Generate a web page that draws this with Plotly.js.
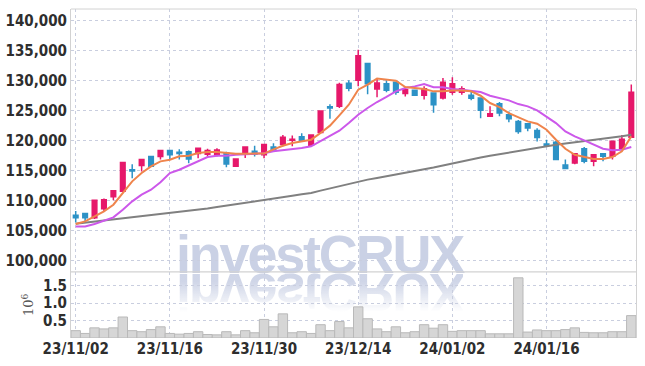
<!DOCTYPE html>
<html>
<head>
<meta charset="utf-8">
<script src="https://cdn.plot.ly/plotly-3.0.1.min.js"></script>
<style>
  html, body { margin: 0; padding: 0; background: #ffffff; }
  #wrap { position: relative; width: 645px; height: 366px; overflow: hidden; }
  #chart { position: absolute; left: 0; top: 0; width: 645px; height: 366px; z-index: 2; }
  .wm { position: absolute; left: 176px; font-family: "Liberation Sans", Arial, sans-serif; font-weight: bold;
        font-size: 54px; letter-spacing: -2.2px; line-height: 38px; height: 38px; white-space: nowrap; z-index: 1; }
  #wm1 { top: 235px; color: #cad1e5; }
  #wm2 { top: 273.5px; color: transparent; transform: scaleY(-1);
         background: linear-gradient(to top, rgba(202,209,229,0.9) 20%, rgba(202,209,229,0) 100%);
         -webkit-background-clip: text; background-clip: text; overflow: visible; }
</style>
</head>
<body>
<div id="wrap">
  <div class="wm" id="wm1">investCRUX</div>
  <div class="wm" id="wm2">investCRUX</div>
  <div id="chart"></div>
</div>
<script>
// Trading dates (category labels)
const dates = [
  "23/11/02","23/11/03","23/11/06","23/11/07","23/11/08","23/11/09","23/11/10","23/11/13","23/11/14","23/11/15",
  "23/11/16","23/11/17","23/11/20","23/11/21","23/11/22","23/11/23","23/11/24","23/11/27","23/11/28","23/11/29",
  "23/11/30","23/12/01","23/12/04","23/12/05","23/12/06","23/12/07","23/12/08","23/12/11","23/12/12","23/12/13",
  "23/12/14","23/12/15","23/12/18","23/12/19","23/12/20","23/12/21","23/12/22","23/12/26","23/12/27","23/12/28",
  "24/01/02","24/01/03","24/01/04","24/01/05","24/01/08","24/01/09","24/01/10","24/01/11","24/01/12","24/01/15",
  "24/01/16","24/01/17","24/01/18","24/01/19","24/01/22","24/01/23","24/01/24","24/01/25","24/01/26","24/01/29"
];
const tickDates = ["23/11/02","23/11/16","23/11/30","23/12/14","24/01/02","24/01/16"];

const openP = [
  107500,107800,107100,108600,110600,111500,115100,115800,117300,117300,
  118300,118000,118100,117800,117700,117600,117900,115700,117800,118200,
  117600,118900,119300,120000,120600,119200,121300,125600,125700,129500,
  130000,132800,128560,129450,129700,127800,128340,127500,127900,127050,
  128000,128000,127500,127050,124000,126100,124270,123160,122770,121660,
  119400,119700,115900,116220,118600,116500,117770,117330,118600,120500
];
const highP = [
  108200,107900,110000,110300,111700,116400,116000,116900,117300,118400,
  118400,118500,118300,118800,118600,118700,118100,117000,119000,119100,
  119300,119500,120900,120800,121200,121000,125000,126000,129600,130000,
  135100,132900,130400,130000,129800,128900,128400,129000,128000,130400,
  130500,129000,128400,127100,125700,126400,124800,123400,122900,122000,
  120100,119900,116800,117800,118900,117700,117900,119900,120900,129300
];
const lowP = [
  106300,106500,106900,108200,110000,111400,113700,114800,115600,116800,
  116800,116800,116200,117000,117300,117300,115500,115600,117050,117300,
  117000,118300,119000,119000,119900,119100,121200,123600,125400,128200,
  129000,127700,127200,128000,127600,127300,127400,126800,124600,126800,
  127600,127600,126700,123700,123900,124000,123000,121100,121500,119800,
  118900,116700,115200,116000,116200,115700,116500,116800,118400,120400
];
const closeP = [
  107100,107100,110000,110100,111600,116300,114900,116800,115700,118300,
  117600,117800,116900,118700,118300,118400,116050,116900,118900,117700,
  119300,118400,120500,120200,119950,120900,124900,125400,129300,128700,
  134100,129450,129560,128340,128000,128450,127500,128600,125950,129670,
  129440,128600,127000,125000,124440,124550,123610,121490,122050,120490,
  119200,116800,115300,117770,116500,117600,117330,119830,120200,128000
];
// Moving averages
const ma5 = [
  106050,106490,107320,108160,109270,111300,113160,114550,115660,116500,
  116780,117330,117440,117890,118050,118050,117890,117780,117780,117780,
  117800,118500,119100,119560,119830,120110,121220,122450,124170,125950,
  128450,129290,130290,130110,129950,128900,128730,128560,128170,128170,
  128330,128330,128170,127440,126220,125550,124550,123880,123160,122770,
  121770,120100,118600,117600,117220,116880,116880,117220,118160,120660
];
const ma10 = [
  105650,105650,106050,106600,107160,108440,109830,110940,111770,113000,
  114550,115100,115830,116610,117220,117440,117440,117610,117720,117780,
  117850,118170,118330,118550,118720,119000,119830,120670,121610,122890,
  124280,125390,126390,127230,128170,128730,129000,129400,128860,128840,
  128550,128440,128280,128050,127440,127050,126660,126050,125660,125000,
  124000,122880,121490,120660,120000,119270,118600,118330,118440,118880
];
const ma60 = [
  106100,106280,106450,106630,106800,106980,107150,107330,107500,107680,
  107850,108030,108200,108400,108640,108880,109130,109370,109610,109860,
  110100,110320,110550,110770,111000,111230,111620,112010,112400,112800,
  113130,113450,113730,114000,114280,114550,114830,115130,115470,115810,
  116160,116480,116800,117130,117420,117700,117980,118260,118530,118800,
  119080,119280,119470,119660,119860,120060,120250,120480,120700,120950
];
// Volume in millions of shares
const volumeM = [
  0.21,0.13,0.29,0.26,0.29,0.60,0.21,0.18,0.24,0.32,
  0.13,0.11,0.13,0.18,0.10,0.09,0.18,0.09,0.21,0.15,
  0.53,0.32,0.69,0.15,0.18,0.13,0.38,0.21,0.47,0.29,
  0.89,0.55,0.26,0.18,0.32,0.15,0.18,0.38,0.28,0.38,
  0.19,0.21,0.21,0.21,0.12,0.12,0.12,1.72,0.17,0.23,
  0.21,0.21,0.24,0.29,0.16,0.15,0.15,0.18,0.18,0.64
];

const UP = "#e6186a", DOWN = "#2c92c6";
const tickFont = { family: "Liberation Sans Narrow, DejaVu Sans Condensed, Arial Narrow, sans-serif", size: 15, weight: "bold", color: "#2e2e2e" };
const gridCol = "#c9cedf";
const frameCol = "#d2d2d2";
const split = 0.201;

const traces = [
  {
    type: "candlestick", x: dates, open: openP, high: highP, low: lowP, close: closeP,
    xaxis: "x", yaxis: "y",
    increasing: { line: { color: UP, width: 1.5 }, fillcolor: UP },
    decreasing: { line: { color: DOWN, width: 1.5 }, fillcolor: DOWN },
    whiskerwidth: 0, showlegend: false, hoverinfo: "skip"
  },
  { type: "scatter", mode: "lines", x: dates, y: ma60, xaxis: "x", yaxis: "y",
    line: { color: "#808080", width: 2 }, showlegend: false, hoverinfo: "skip" },
  { type: "scatter", mode: "lines", x: dates, y: ma10, xaxis: "x", yaxis: "y",
    line: { color: "#cc58ea", width: 2 }, showlegend: false, hoverinfo: "skip" },
  { type: "scatter", mode: "lines", x: dates, y: ma5, xaxis: "x", yaxis: "y",
    line: { color: "#ef844c", width: 2 }, showlegend: false, hoverinfo: "skip" },
  { type: "bar", x: dates, y: volumeM, xaxis: "x", yaxis: "y2",
    marker: { color: "#d6d6d6", line: { color: "#b9b9b9", width: 1 } },
    showlegend: false, hoverinfo: "skip" }
];

const layout = {
  width: 645, height: 366,
  margin: { l: 71, r: 9, t: 9, b: 28 },
  paper_bgcolor: "rgba(0,0,0,0)", plot_bgcolor: "rgba(0,0,0,0)",
  bargap: 0,
  xaxis: {
    type: "category", range: [-0.5, 59.5], anchor: "y2",
    tickmode: "array", tickvals: tickDates, ticktext: tickDates,
    showgrid: true, gridcolor: gridCol, griddash: "dot", gridwidth: 1,
    showline: false, zeroline: false, ticks: "",
    tickfont: tickFont, rangeslider: { visible: false }, fixedrange: true
  },
  yaxis: {
    domain: [split, 1], range: [98070, 141900],
    tickmode: "linear", tick0: 100000, dtick: 5000, tickformat: ",d",
    showgrid: true, gridcolor: gridCol, griddash: "dot", gridwidth: 1,
    showline: true, mirror: true, linecolor: frameCol, linewidth: 1,
    zeroline: false, ticks: "", tickfont: tickFont, fixedrange: true
  },
  yaxis2: {
    domain: [0, split], range: [0, 1.89],
    tickmode: "array", tickvals: [0.5, 1.0, 1.5], tickformat: ".1f",
    showgrid: true, gridcolor: gridCol, griddash: "dot", gridwidth: 1,
    showline: true, mirror: true, linecolor: frameCol, linewidth: 1,
    zeroline: false, ticks: "", tickfont: tickFont, fixedrange: true,
    title: { text: "10<sup>6</sup>", font: { family: "DejaVu Serif, serif", size: 13, color: "#555555" }, standoff: 6 }
  },
  shapes: [
    { type: "line", xref: "paper", yref: "paper", x0: 0, x1: 1, y0: 1, y1: 1, line: { color: frameCol, width: 1 } },
    { type: "line", xref: "paper", yref: "paper", x0: 0, x1: 1, y0: split, y1: split, line: { color: frameCol, width: 1.2 } }
  ]
};

Plotly.newPlot("chart", traces, layout, { staticPlot: true, displayModeBar: false });
</script>
</body>
</html>
